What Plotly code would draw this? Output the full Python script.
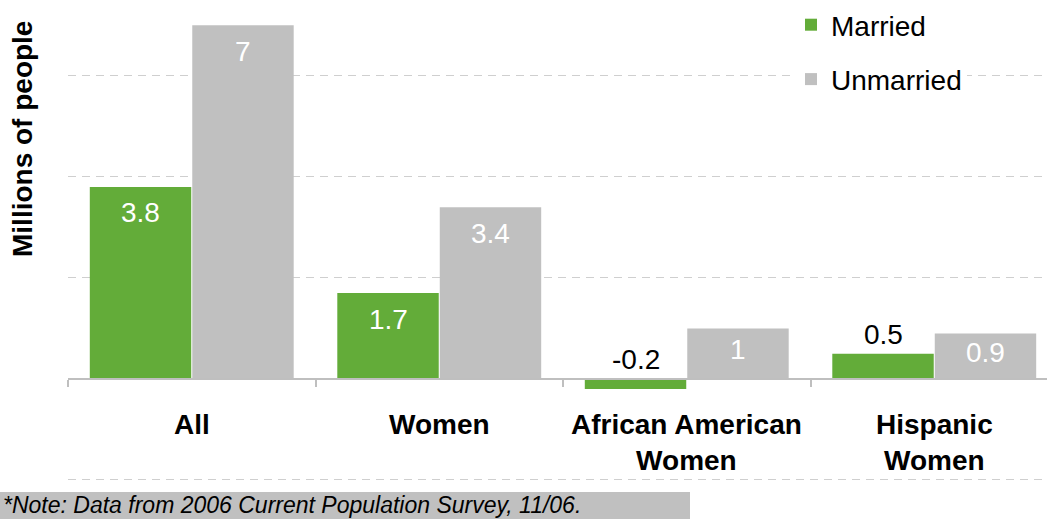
import plotly.graph_objects as go

# Change in number of people, millions
categories = ["All", "Women", "African American<br>Women", "Hispanic<br>Women"]
married = [3.8, 1.7, -0.2, 0.5]
unmarried = [7, 3.4, 1, 0.9]

GREEN = "#63AC39"
GRAY = "#C0C0C0"
FONT = "Arial, Liberation Sans, sans-serif"

W, H = 1047, 519
ML, MR, MT, MB = 68, 0, 0, 34
Y0, Y1 = -2.1, 7.5
px_per_unit = (H - MT - MB) / (Y1 - Y0)

fig = go.Figure()
fig.add_trace(go.Bar(x=categories, y=married, name="Married", marker_color=GREEN,
                     marker_line_width=0, legendgroup="m", hoverinfo="x+y"))
fig.add_trace(go.Bar(x=categories, y=unmarried, name="Unmarried", marker_color=GRAY,
                     marker_line_width=0, legendgroup="u", hoverinfo="x+y"))

annotations = []

# value labels: white inside the top of tall bars, black above short ones
def add_labels(values, shift):
    for cat, v in zip(categories, values):
        h = v * px_per_unit
        if v >= 0.8:
            annotations.append(dict(x=cat, y=v, xref="x", yref="y", text=f"{v:g}",
                                    showarrow=False, xshift=shift, yanchor="middle",
                                    yshift=-min(26, 0.42 * h),
                                    font=dict(family=FONT, size=28, color="white")))
        else:
            annotations.append(dict(x=cat, y=max(v, 0), xref="x", yref="y", text=f"{v:g}",
                                    showarrow=False, xshift=shift, yanchor="middle",
                                    yshift=19,
                                    font=dict(family=FONT, size=28, color="black")))

add_labels(married, -51)
add_labels(unmarried, 51)

# category names under the zero line
for cat in categories:
    annotations.append(dict(x=cat, y=0, xref="x", yref="y", text=f"<b>{cat}</b>",
                            showarrow=False, yanchor="top", yshift=-28,
                            font=dict(family=FONT, size=28, color="black")))

plot_w = W - ML - MR
plot_h = H - MT - MB

# axis title
annotations.append(dict(x=0, y=(plot_h - 139 + MT) / plot_h, xref="paper", yref="paper",
                        text="<b>Millions of people</b>", textangle=-90, showarrow=False,
                        xshift=-46, xanchor="center", yanchor="middle",
                        font=dict(family=FONT, size=28, color="black")))

# footnote
annotations.append(dict(x=-ML / plot_w + 1 / plot_w, y=-(505 - MT - plot_h) / plot_h,
                        xref="paper", yref="paper",
                        text="<i>*Note: Data from 2006 Current Population Survey, 11/06.</i>",
                        showarrow=False, xanchor="left", yanchor="middle",
                        font=dict(family=FONT, size=23, color="black")))

shapes = [dict(type="rect", xref="paper", yref="paper",
               x0=-ML / plot_w, x1=(690 - ML) / plot_w,
               y0=-(492 - MT - plot_h) / plot_h, y1=-(H + 2 - MT - plot_h) / plot_h,
               fillcolor=GRAY, line_width=0, layer="below")]

fig.update_layout(
    width=W, height=H,
    margin=dict(l=ML, r=MR, t=MT, b=MB, pad=0),
    paper_bgcolor="white", plot_bgcolor="white",
    barmode="group", bargap=0.172, bargroupgap=0.01,
    font=dict(family=FONT, size=28, color="black"),
    showlegend=True,
    legend=dict(x=(791 - ML) / plot_w, y=1.0, xanchor="left", yanchor="top",
                bgcolor="white", borderwidth=0, tracegroupgap=15,
                font=dict(family=FONT, size=28, color="black"),
                itemclick=False, itemdoubleclick=False),
    xaxis=dict(type="category", range=[-0.5, -0.5 + plot_w / 247.5],
               showticklabels=False, showgrid=False, zeroline=False,
               showline=True, linecolor="#BFBFBF", linewidth=1.5,
               ticks="outside", tickson="boundaries", ticklen=7,
               tickcolor="#BFBFBF", tickwidth=1.5,
               anchor="free", position=(0 - Y0) / (Y1 - Y0)),
    yaxis=dict(range=[Y0, Y1], tickvals=[-2, 2, 4, 6], showticklabels=False,
               showgrid=True, gridcolor="#CFCFCF", gridwidth=1, griddash="8px,6px",
               zeroline=False, showline=False, ticks=""),
    annotations=annotations,
    shapes=shapes,
)

fig.write_html("out.html")
